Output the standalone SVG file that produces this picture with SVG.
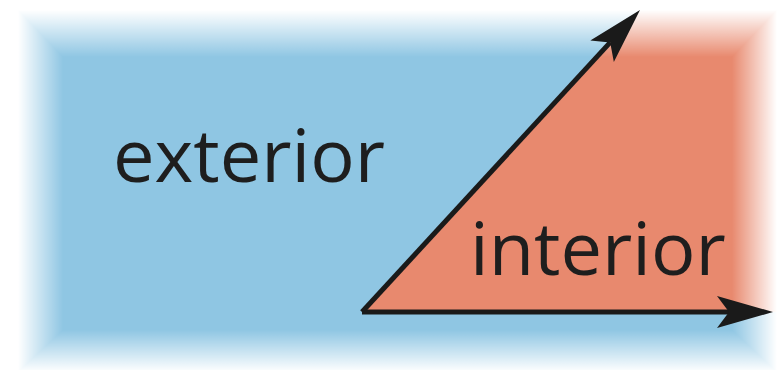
<svg xmlns="http://www.w3.org/2000/svg" width="783" height="370" viewBox="0 0 783 370">
  <defs>
    <style>
      .label { font-family: "Open Sans", "Noto Sans", sans-serif; font-size: 74px; font-weight: 500; fill: #1e1e1e; }
      .ray { stroke: #1a1a1a; stroke-width: 5; fill: none; marker-end: url(#arrow); }
      .fade { shape-rendering: crispEdges; }
    </style>
    <marker id="arrow" markerUnits="userSpaceOnUse" viewBox="0 -20 60 40" refX="12" refY="0" markerWidth="60" markerHeight="40" orient="auto" overflow="visible">
      <path d="M0,-16 L56,0 L0,16 L12,0 Z" fill="#1a1a1a"/>
    </marker>
    <!-- soft edge fades for the region panel (mitered corners) -->
    <linearGradient id="gL" gradientUnits="userSpaceOnUse" x1="18" y1="0" x2="63" y2="0">
      <stop offset="0" stop-color="#000"/><stop offset="1" stop-color="#fff"/>
    </linearGradient>
    <linearGradient id="gT" gradientUnits="userSpaceOnUse" x1="0" y1="10" x2="0" y2="57">
      <stop offset="0" stop-color="#000"/><stop offset="1" stop-color="#fff"/>
    </linearGradient>
    <linearGradient id="gR" gradientUnits="userSpaceOnUse" x1="777" y1="0" x2="732" y2="0">
      <stop offset="0" stop-color="#000"/><stop offset="1" stop-color="#fff"/>
    </linearGradient>
    <linearGradient id="gB" gradientUnits="userSpaceOnUse" x1="0" y1="372" x2="0" y2="330">
      <stop offset="0" stop-color="#000"/><stop offset="1" stop-color="#fff"/>
    </linearGradient>
    <mask id="softEdge" maskUnits="userSpaceOnUse" x="0" y="0" width="783" height="370">
      <rect x="0" y="0" width="783" height="370" fill="#000"/>
      <rect class="fade" x="63" y="57" width="669" height="273" fill="#fff"/>
      <polygon class="fade" points="18,10 63,57 63,330 18,372" fill="url(#gL)"/>
      <polygon class="fade" points="18,10 777,10 732,57 63,57" fill="url(#gT)"/>
      <polygon class="fade" points="777,10 777,372 732,330 732,57" fill="url(#gR)"/>
      <polygon class="fade" points="18,372 63,330 732,330 777,372" fill="url(#gB)"/>
    </mask>
  </defs>

  <rect width="783" height="370" fill="#ffffff"/>

  <!-- exterior and interior regions -->
  <g id="regions" mask="url(#softEdge)">
    <g id="exterior-region">
      <rect x="0" y="0" width="783" height="370" fill="#8FC6E3"/>
    </g>
    <g id="interior-region">
      <polygon points="362,312 649,0 783,0 783,312" fill="#E8896E"/>
    </g>
  </g>

  <!-- the two rays of the angle -->
  <g id="connectors">
    <line class="ray" x1="362" y1="312" x2="610.2" y2="42.4"/>
    <line class="ray" x1="362" y1="312" x2="729" y2="312"/>
  </g>

  <g id="exterior-label">
    <text class="label" x="113" y="182">exterior</text>
  </g>
  <g id="interior-label">
    <text class="label" x="470" y="275">interior</text>
  </g>
</svg>
